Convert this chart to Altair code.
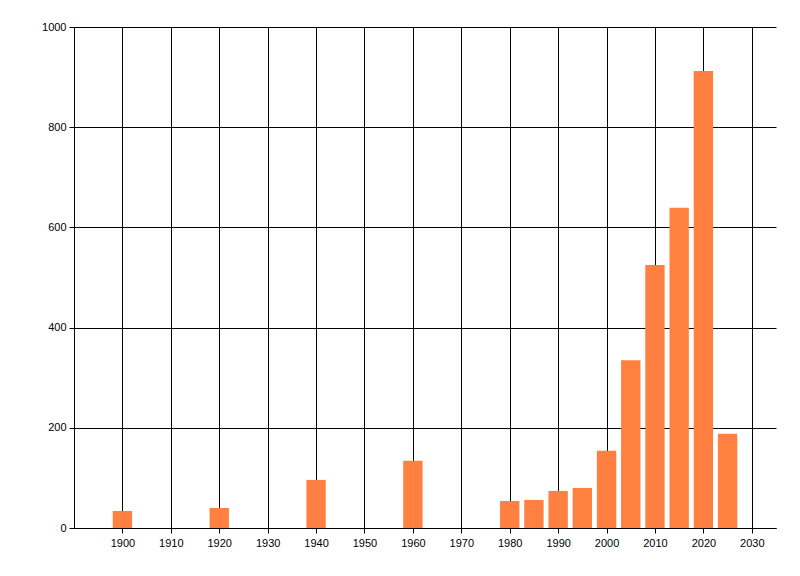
import altair as alt
import pandas as pd

years = [1900, 1920, 1940, 1960, 1980, 1985, 1990, 1995, 2000, 2005, 2010, 2015, 2020, 2025]
counts = [34, 40, 96, 134, 54, 56, 74, 80, 154, 335, 525, 639, 912, 188]

df = pd.DataFrame({"year": years, "count": counts})

AXIS_STYLE = dict(
    gridColor="black", gridOpacity=1, gridWidth=1,
    domainColor="black", domainWidth=1,
    tickColor="black", tickSize=5, tickWidth=1,
    labelColor="black", labelFont="Liberation Sans", labelFontSize=11,
    format="d", title=None,
)

chart = alt.Chart(df).transform_calculate(
    start="datum.year - 2",
    end="datum.year + 2",
).mark_bar(color="#FF8040").encode(
    x=alt.X("start:Q", scale=alt.Scale(domain=[1890, 2035], nice=False, zero=False, padding=0),
            axis=alt.Axis(values=list(range(1900, 2031, 10)), labelPadding=4, **AXIS_STYLE)),
    x2="end:Q",
    y=alt.Y("count:Q", scale=alt.Scale(domain=[0, 1000], nice=False, padding=0),
            axis=alt.Axis(values=list(range(0, 1001, 200)), labelPadding=3, **AXIS_STYLE)),
    y2=alt.datum(0),
    tooltip=["year", "count"],
).properties(
    width=702,
    height=501,
    autosize=alt.AutoSizeParams(type="none"),
    padding={"left": 66, "top": 19, "right": 14, "bottom": 40},
).configure_view(stroke=None)

chart.save("out.html", embed_options={"renderer": "svg", "actions": False})
